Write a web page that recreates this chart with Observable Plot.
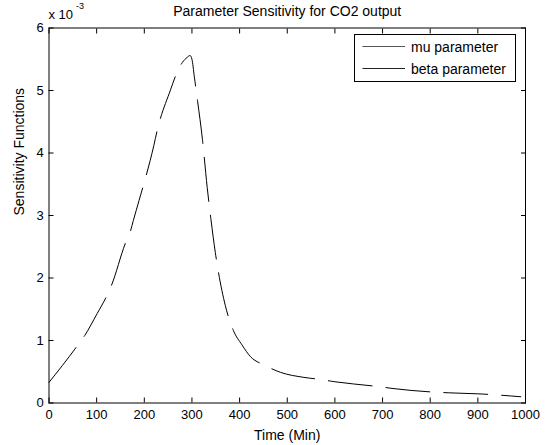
<!DOCTYPE html>
<html>
<head>
<meta charset="utf-8">
<script src="https://cdn.jsdelivr.net/npm/d3@7"></script>
<script src="https://cdn.jsdelivr.net/npm/@observablehq/plot@0.6"></script>
<style>
  html, body { margin: 0; padding: 0; background: #fff; }
  svg { font-family: "Liberation Sans", Arial, Helvetica, sans-serif; }
</style>
</head>
<body>
<div id="chart"></div>
<script>
// ---- data ----
const time = [0, 57, 75, 101, 119, 131, 160, 171, 177, 189, 220, 227, 255, 266, 280, 290, 296, 300, 305, 312, 322, 332, 340, 349, 370, 387, 405, 423, 451, 486, 535, 566, 600, 694, 724, 818, 850, 900, 990];
const muSensitivity = [0.33, 0.89, 1.08, 1.43, 1.68, 1.88, 2.55, 2.75, 2.92, 3.24, 4.12, 4.36, 5.01, 5.24, 5.45, 5.53, 5.56, 5.50, 5.22, 4.82, 4.22, 3.45, 2.93, 2.41, 1.56, 1.16, 0.93, 0.74, 0.61, 0.49, 0.41, 0.38, 0.34, 0.26, 0.23, 0.17, 0.16, 0.147, 0.10];
const xTicks = [0, 100, 200, 300, 400, 500, 600, 700, 800, 900, 1000];
const yTicks = [0, 1, 2, 3, 4, 5, 6];
const legendLabels = ["mu parameter", "beta parameter"];
const titleText = "Parameter Sensitivity for CO2 output";
const xLabel = "Time (Min)";
const yLabel = "Sensitivity Functions";
const exponentBase = "x 10";
const exponentPower = "-3";

const rows = time.map((t, i) => ({t, v: muSensitivity[i]}));

const chart = Plot.plot({
  width: 555,
  height: 445,
  marginLeft: 48.5,
  marginRight: 30,
  marginTop: 27.5,
  marginBottom: 42.5,
  style: {fontFamily: "'Liberation Sans', Arial, Helvetica, sans-serif", fontSize: "13px", background: "#fff", color: "#000"},
  x: {domain: [0, 1000]},
  y: {domain: [0, 6]},
  marks: [
    Plot.frame({stroke: "#000"}),
    Plot.axisX(xTicks, {anchor: "bottom", tickSize: -5, tickPadding: 11.8, label: null, fontSize: 13, tickFormat: d => String(d)}),
    Plot.axisX(xTicks, {anchor: "top", tickSize: -5, tickFormat: () => "", label: null}),
    Plot.axisY(yTicks, {anchor: "left", tickSize: -5, tickPadding: 10.3, label: null, fontSize: 13, tickFormat: d => String(d)}),
    Plot.axisY(yTicks, {anchor: "right", tickSize: -5, tickFormat: () => "", label: null}),
    Plot.line(rows, {x: "t", y: "v", stroke: "#000", strokeWidth: 1, strokeDasharray: "44,14", curve: "monotone-x"}),
    Plot.text([titleText], {frameAnchor: "top", dy: -12.5, lineAnchor: "bottom", fontSize: 14}),
    Plot.text([xLabel], {frameAnchor: "bottom", dy: 36.5, lineAnchor: "bottom", fontSize: 14}),
    Plot.text([yLabel], {frameAnchor: "left", dx: -25.5, rotate: -90, lineAnchor: "bottom", fontSize: 14}),
    Plot.text([exponentBase], {frameAnchor: "top-left", textAnchor: "start", dx: -0.5, dy: -9.2, lineAnchor: "bottom", fontSize: 13}),
    Plot.text([exponentPower], {frameAnchor: "top-left", textAnchor: "start", dx: 27, dy: -19, lineAnchor: "bottom", fontSize: 9})
  ]
});

document.getElementById("chart").appendChild(chart);

// ---- legend box (top right, inside the axes) ----
const svg = d3.select(chart);
const lg = svg.append("g").attr("class", "legend").attr("font-size", 14).attr("text-anchor", "start");
lg.append("rect")
  .attr("x", 354.5).attr("y", 34.5).attr("width", 161).attr("height", 47)
  .attr("fill", "#fff").attr("stroke", "#000");
const rowY = [46.5, 68.5];
const lineColors = ["#555", "#222"];
legendLabels.forEach((lab, i) => {
  lg.append("line")
    .attr("x1", 362.5).attr("x2", 405).attr("y1", rowY[i]).attr("y2", rowY[i])
    .attr("stroke", lineColors[i]).attr("stroke-width", 1);
  lg.append("text")
    .attr("x", 411).attr("y", rowY[i] + 5)
    .attr("text-anchor", "start")
    .attr("fill", "#000")
    .text(lab);
});
</script>
</body>
</html>
